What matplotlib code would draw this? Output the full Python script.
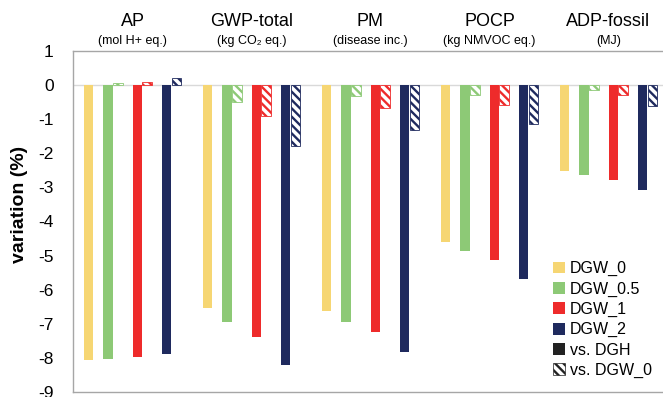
import matplotlib
matplotlib.use("Agg")
import matplotlib.pyplot as plt
from matplotlib.patches import Patch
from matplotlib.transforms import blended_transform_factory
import numpy as np

plt.rcParams['font.family'] = ['Liberation Sans', 'DejaVu Sans']
plt.rcParams['hatch.linewidth'] = 1.7

categories = ["AP", "GWP-total", "PM", "POCP", "ADP-fossil"]
units = ["(mol H+ eq.)", "(kg CO\u2082 eq.)", "(disease inc.)", "(kg NMVOC eq.)", "(MJ)"]

# variation vs. DGH (%)
dgw_0   = [-8.07, -6.54, -6.63, -4.61, -2.51]
dgw_05  = [-8.02, -6.95, -6.94, -4.87, -2.65]
dgw_1   = [-7.96, -7.38, -7.25, -5.14, -2.78]
dgw_2   = [-7.89, -8.21, -7.84, -5.69, -3.08]
# variation vs. DGW_0 (%)
dgw_05_v0 = [0.06, -0.49, -0.32, -0.29, -0.14]
dgw_1_v0  = [0.10, -0.91, -0.68, -0.58, -0.29]
dgw_2_v0  = [0.20, -1.79, -1.32, -1.14, -0.60]

series_labels = ["DGW_0", "DGW_0.5", "DGW_1", "DGW_2"]
colors = ["#F6D673", "#8DC976", "#EE2B2B", "#1F2A5E"]
yticks = list(range(-9, 2))

fig = plt.figure(figsize=(6.63, 3.97), dpi=100)
ax = fig.add_axes([73/663, 1-392/397, 595/663, 341/397])

x = np.arange(len(categories))
w = 0.0819
bw = 0.078

def off(slot):
    return (slot - 4.5) * w

solid = [dgw_0, dgw_05, dgw_1, dgw_2]
solid_slots = [0, 2, 5, 8]
for vals, slot, c in zip(solid, solid_slots, colors):
    ax.bar(x + off(slot), vals, width=bw, color=c, edgecolor='none', zorder=3)

hatched = [dgw_05_v0, dgw_1_v0, dgw_2_v0]
hatched_slots = [3, 6, 9]
for vals, slot, c in zip(hatched, hatched_slots, colors[1:]):
    ax.bar(x + off(slot), vals, width=bw, facecolor='white', edgecolor=c,
           hatch='\\\\\\\\', linewidth=0.6, zorder=3)

ax.axhline(0, color='#D9D9D9', lw=1.0, zorder=1)
ax.set_xlim(-0.5, 4.5)
ax.set_ylim(-9, 1)
ax.set_yticks(yticks)
ax.set_yticklabels([str(t) for t in yticks], fontsize=12.5)
ax.tick_params(axis='y', length=0, pad=14)
ax.set_xticks([])
for s in ax.spines.values():
    s.set_color('#A6A6A6')
    s.set_linewidth(1.0)

fig.text(20/663, 1-204/397, "variation (%)", rotation=90, ha='center', va='center',
         fontsize=14, fontweight='bold')

tr = blended_transform_factory(ax.transData, fig.transFigure)
for xi, name, unit in zip(x, categories, units):
    ax.text(xi, 1-21/397, name, transform=tr, ha='center', va='center', fontsize=13)
    ax.text(xi, 1-41/397, unit, transform=tr, ha='center', va='center', fontsize=9)

handles = [Patch(facecolor=c, edgecolor='none') for c in colors]
handles.append(Patch(facecolor='#222222', edgecolor='none'))
handles.append(Patch(facecolor='white', edgecolor='#222222', hatch='\\\\\\\\', linewidth=0.5))
labels = series_labels + ["vs. DGH", "vs. DGW_0"]
fig.legend(handles, labels, loc='upper left', bbox_to_anchor=(553/663, 1-261/397),
           frameon=False, fontsize=11.5, handlelength=0.75, handleheight=0.75,
           handletextpad=0.3, labelspacing=0.33, borderpad=0, borderaxespad=0)

fig.savefig("out.png", dpi=100)
